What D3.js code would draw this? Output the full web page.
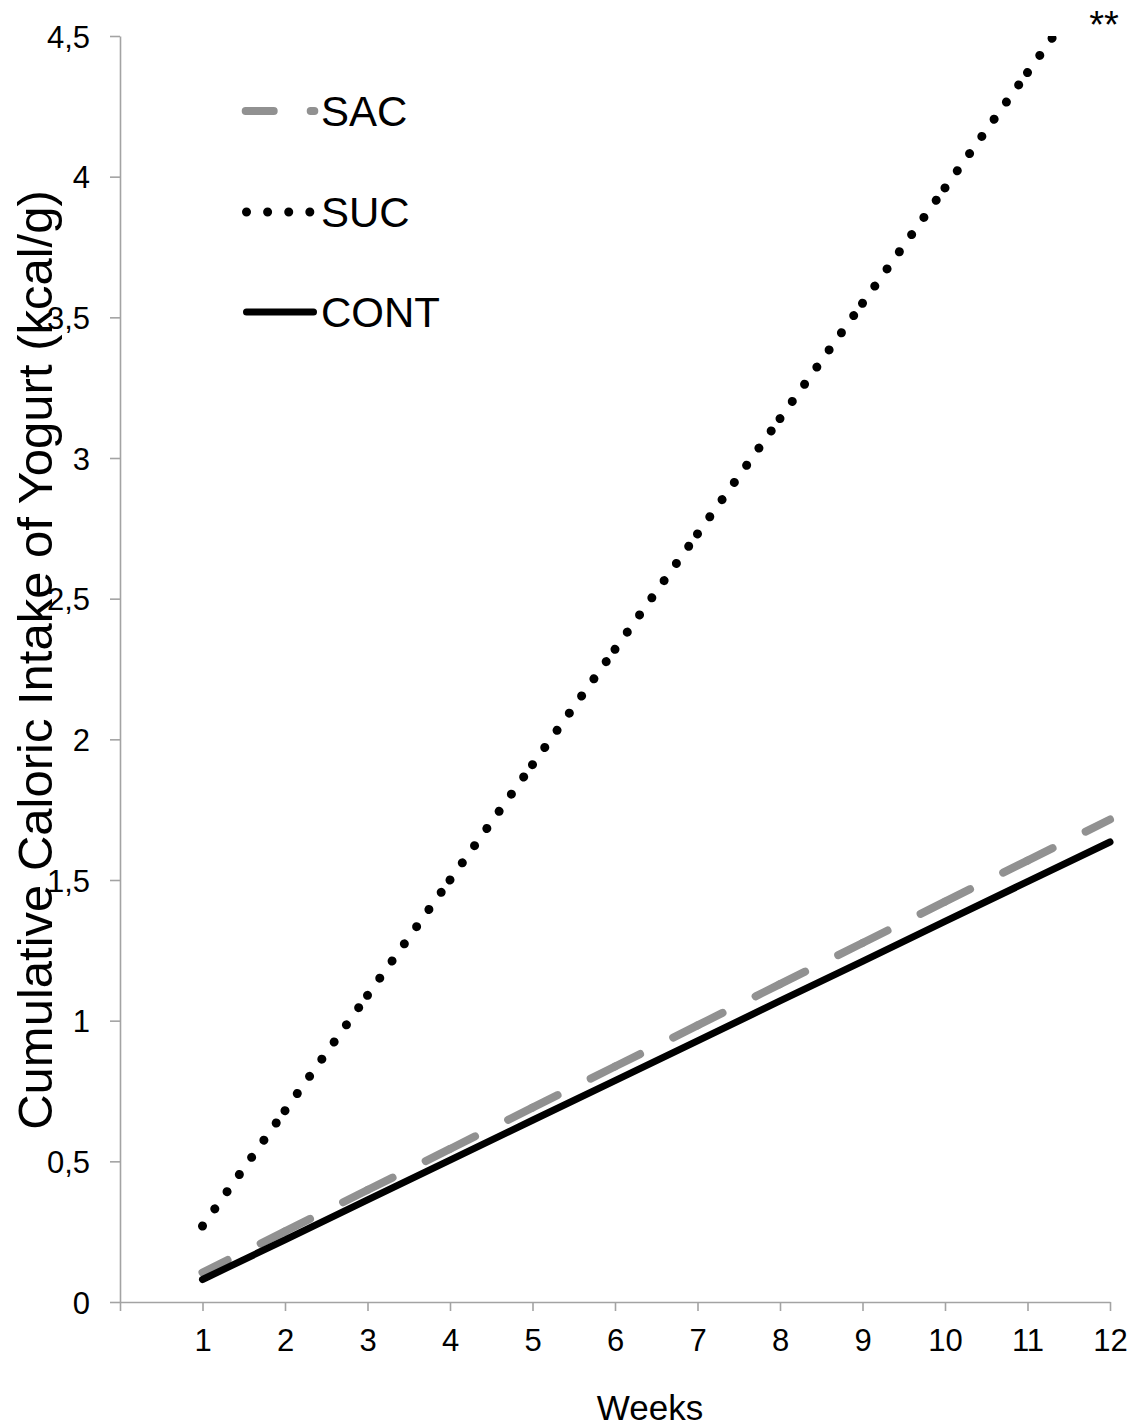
<!DOCTYPE html>
<html>
<head>
<meta charset="utf-8">
<script src="https://cdn.jsdelivr.net/npm/d3@7"></script>
<style>
  body { margin: 0; background: #fff; }
  svg { display: block; }
  text { font-family: "Liberation Sans", Arial, Helvetica, sans-serif; fill: #000; }
</style>
</head>
<body>
<svg id="chart" width="1138" height="1428"></svg>
<script>
// Cumulative caloric intake of yogurt per week (kcal/g)
const weeks = [1, 2, 3, 4, 5, 6, 7, 8, 9, 10, 11, 12];
const sacValues  = [0.105, 0.251, 0.398, 0.544, 0.691, 0.837, 0.983, 1.130, 1.276, 1.423, 1.569, 1.715];
const sucValues  = [0.27, 0.68, 1.09, 1.50, 1.91, 2.32, 2.73, 3.14, 3.55, 3.96, 4.37, 4.78];
const contValues = [0.08, 0.221, 0.363, 0.504, 0.646, 0.787, 0.928, 1.070, 1.211, 1.353, 1.494, 1.635];
const seriesNames = ["SAC", "SUC", "CONT"];
const xTickValues = [0, 1, 2, 3, 4, 5, 6, 7, 8, 9, 10, 11, 12];
const yTickValues = [0, 0.5, 1, 1.5, 2, 2.5, 3, 3.5, 4, 4.5];
const yTitle = "Cumulative Caloric Intake of Yogurt (kcal/g)";
const xTitle = "Weeks";
const significance = "**";

(function () {
  const svg = d3.select("#chart");
  const plotLeft = 120, plotRight = 1110, plotTop = 36, plotBottom = 1302;
  const axisColor = "#a3a3a3";

  const x = d3.scaleLinear().domain([0, 12]).range([plotLeft, plotRight]);
  const y = d3.scaleLinear().domain([0, 4.5]).range([plotBottom, plotTop]);

  const commaLocale = d3.formatLocale({ decimal: ",", thousands: ".", grouping: [3], currency: ["", ""] });
  const yFormat = commaLocale.format("~g");

  // Axes
  const xAxis = svg.append("g")
    .attr("transform", `translate(0,${plotBottom})`)
    .call(d3.axisBottom(x).tickValues(xTickValues).tickSize(9).tickSizeOuter(0)
      .tickFormat(d => d === 0 ? "" : d));
  xAxis.selectAll("text").attr("y", 49).attr("dy", null).attr("font-size", 31).attr("fill", "#000");

  const yAxis = svg.append("g")
    .attr("transform", `translate(${plotLeft},0)`)
    .call(d3.axisLeft(y).tickValues(yTickValues).tickSize(10).tickSizeOuter(0).tickFormat(yFormat));
  yAxis.selectAll("text").attr("x", -30).attr("dy", "0.36em").attr("font-size", 31).attr("fill", "#000");

  svg.selectAll(".domain, .tick line").attr("stroke", axisColor).attr("stroke-width", 1.6);

  // Plot clip
  svg.append("clipPath").attr("id", "plot-clip")
    .append("rect").attr("x", plotLeft).attr("y", plotTop)
    .attr("width", 1138 - plotLeft).attr("height", plotBottom - plotTop);

  const plot = svg.append("g").attr("clip-path", "url(#plot-clip)");
  const line = d3.line().x(d => x(d[0])).y(d => y(d[1]));

  const styles = {
    SAC:  { color: "#919191", width: 8, dash: "28 37" },
    SUC:  { color: "#000",    width: 9, dash: "0.01 21.1" },
    CONT: { color: "#000",    width: 7, dash: null }
  };
  const seriesData = {
    SAC:  weeks.map((w, i) => [w, sacValues[i]]),
    SUC:  weeks.map((w, i) => [w, sucValues[i]]),
    CONT: weeks.map((w, i) => [w, contValues[i]])
  };

  // Dash patterns restart at every weekly point, so patterned series are drawn segment by segment
  function drawSeries(name) {
    const st = styles[name];
    const pts = seriesData[name];
    if (!st.dash) {
      plot.append("path").datum(pts).attr("d", line)
        .attr("fill", "none").attr("stroke", st.color).attr("stroke-width", st.width)
        .attr("stroke-linecap", "round").attr("stroke-linejoin", "round");
      return;
    }
    plot.selectAll(null).data(d3.pairs(pts)).join("path")
      .attr("d", d => line(d))
      .attr("fill", "none").attr("stroke", st.color).attr("stroke-width", st.width)
      .attr("stroke-linecap", "round").attr("stroke-dasharray", st.dash);
  }
  seriesNames.forEach(drawSeries);

  // Legend
  const legend = svg.append("g");
  const legendRows = [
    { name: "SAC",  y: 111, x0: 245.7, x1: 314.3 },
    { name: "SUC",  y: 212, x0: 246.5, x1: 310.5 },
    { name: "CONT", y: 312, x0: 246.5, x1: 313.5 }
  ];
  legendRows.forEach(r => {
    const st = styles[r.name];
    legend.append("line")
      .attr("x1", r.x0).attr("x2", r.x1).attr("y1", r.y).attr("y2", r.y)
      .attr("stroke", st.color).attr("stroke-width", st.width)
      .attr("stroke-linecap", "round")
      .attr("stroke-dasharray", st.dash);
    legend.append("text")
      .attr("x", 321).attr("y", r.y).attr("dy", "0.36em")
      .attr("font-size", 42).text(r.name);
  });

  // Axis titles
  svg.append("text")
    .attr("transform", "translate(52,660) rotate(-90)")
    .attr("text-anchor", "middle").attr("font-size", 49).text(yTitle);
  svg.append("text")
    .attr("x", 650).attr("y", 1420).attr("text-anchor", "middle")
    .attr("font-size", 35).text(xTitle);

  // Significance marker at week 12
  svg.append("text")
    .attr("x", x(12) - 6).attr("y", 38).attr("text-anchor", "middle")
    .attr("font-size", 38).text(significance);
})();
</script>
</body>
</html>
